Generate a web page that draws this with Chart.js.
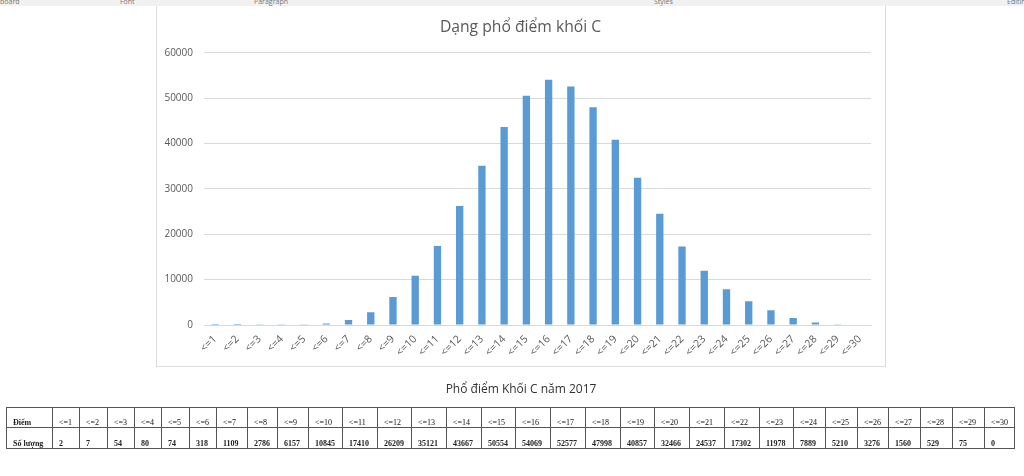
<!DOCTYPE html>
<html lang="vi">
<head>
<meta charset="utf-8">
<title>Dạng phổ điểm khối C</title>
<script src="https://cdn.jsdelivr.net/npm/chart.js@4"></script>
<style>
	html, body { margin: 0; padding: 0; background: #fff; }
	body { position: relative; width: 1024px; height: 476px; overflow: hidden; }
	#ribbon { position: absolute; left: 0; top: 0; width: 1024px; height: 6px; background: #f1f1f1; overflow: hidden; will-change: opacity; }
	#ribbon span { position: absolute; top: -3px; font: 7px "Open Sans", sans-serif; color: #777; }
	#page-left, #page-right { position: absolute; top: 6px; height: 361px; width: 1px; background: #dcdcdc; }
	#page-left { left: 156px; }
	#page-right { left: 885px; }
	#page-bottom { position: absolute; left: 156px; top: 366px; width: 730px; height: 1px; background: #dcdcdc; }
	#chart { position: absolute; left: 156px; top: 7px; }
	#heading { position: absolute; left: 0; top: 380px; width: 1042px; text-align: center; font: 12px "Open Sans", sans-serif; color: #333; will-change: opacity; }
	#scores { position: absolute; left: 6px; top: 407px; border-collapse: collapse; table-layout: fixed; font: bold 8px "Liberation Serif", serif; color: #222; will-change: opacity; }
	#scores td { border: 1px solid #555; height: 20px; padding: 0 0 0 6px; box-sizing: border-box; vertical-align: bottom; white-space: nowrap; overflow: hidden; }
	#scores tr:first-child td:not(:first-child) { font-weight: normal; color: #111; }
	#scores tr:last-child td { height: 21px; }
</style>
</head>
<body>
<div id="ribbon"></div>
<div id="page-left"></div>
<div id="page-right"></div>
<div id="page-bottom"></div>
<canvas id="chart" width="729" height="359"></canvas>
<div id="heading">Phổ điểm Khối C năm 2017</div>
<table id="scores"></table>
<script>
const categories = ["<=1", "<=2", "<=3", "<=4", "<=5", "<=6", "<=7", "<=8", "<=9", "<=10",
	"<=11", "<=12", "<=13", "<=14", "<=15", "<=16", "<=17", "<=18", "<=19", "<=20",
	"<=21", "<=22", "<=23", "<=24", "<=25", "<=26", "<=27", "<=28", "<=29", "<=30"];
const counts = [2, 7, 54, 80, 74, 318, 1109, 2786, 6157, 10845,
	17410, 26209, 35121, 43667, 50554, 54069, 52577, 47998, 40857, 32466,
	24537, 17302, 11978, 7889, 5210, 3276, 1560, 529, 75, 0];
const chartTitle = "Dạng phổ điểm khối C";
const rowHeaders = ["Điểm", "Số lượng"];
const ribbonLabels = ["board", "Font", "Paragraph", "Styles", "Editing"];

// layout of the page furniture
const ribbonX = [0, 120, 254, 654, 1007];
const columnEdges = [6, 52, 79, 107, 134, 161, 189, 216, 247, 277, 308, 342, 377, 411, 446, 481,
	515, 550, 585, 620, 654, 689, 724, 759, 793, 825, 857, 888, 920, 952, 984, 1014];

ribbonLabels.forEach((label, i) => {
	const span = document.createElement("span");
	span.textContent = label;
	span.style.left = ribbonX[i] + "px";
	document.getElementById("ribbon").appendChild(span);
});

const table = document.getElementById("scores");
table.style.width = columnEdges[columnEdges.length - 1] - columnEdges[0] + "px";
const colgroup = document.createElement("colgroup");
columnEdges.slice(1).forEach((edge, i) => {
	const col = document.createElement("col");
	col.style.width = edge - columnEdges[i] + "px";
	colgroup.appendChild(col);
});
table.appendChild(colgroup);
[categories, counts].forEach((cells, r) => {
	const row = table.insertRow();
	row.insertCell().textContent = rowHeaders[r];
	cells.forEach((cell) => {
		row.insertCell().textContent = cell;
	});
});

const textColor = "#595959";
const gridColor = "#d9d9d9";

new Chart(document.getElementById("chart"), {
	type: "bar",
	data: {
		labels: categories,
		datasets: [
			{
				data: counts,
				backgroundColor: "#5b9bd5",
				barPercentage: 0.33,
				categoryPercentage: 1,
			},
		],
	},
	options: {
		responsive: false,
		animation: false,
		plugins: {
			legend: { display: false },
			tooltip: { enabled: false },
			title: {
				display: true,
				text: chartTitle,
				color: textColor,
				font: { family: "Open Sans", size: 15.7, weight: "normal", lineHeight: 1.2 },
				padding: { top: 11, bottom: 16 },
			},
		},
		scales: {
			x: {
				afterFit: (scale) => { scale.height = 41; },
				grid: { display: false },
				border: { color: gridColor, z: 1 },
				ticks: {
					color: textColor,
					font: { family: "Open Sans", size: 10.5 },
					autoSkip: false,
					minRotation: 45,
					maxRotation: 45,
					padding: 0,
				},
			},
			y: {
				min: 0,
				max: 60000,
				afterFit: (scale) => { scale.width = 48; },
				grid: { color: gridColor, drawTicks: false },
				border: { display: false },
				ticks: {
					stepSize: 10000,
					color: textColor,
					font: { family: "Open Sans", size: 10 },
					padding: 11,
					callback: (value) => String(value),
				},
			},
			// empty axis, only reserves the margin right of the plot so the title stays centred
			margin: {
				position: "right",
				afterFit: (scale) => { scale.width = 14; },
				grid: { display: false },
				border: { display: false },
				ticks: { display: false },
			},
		},
	},
});
</script>
</body>
</html>
